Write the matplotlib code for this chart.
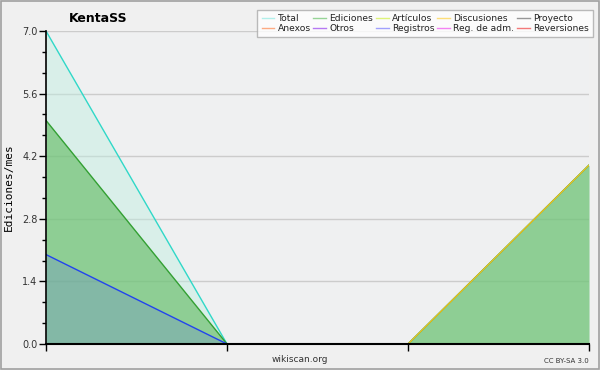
import numpy as np
import matplotlib.pyplot as plt
from matplotlib.lines import Line2D

# datos (ediciones por mes)
months = [0, 1, 2, 3]
total = [7.0, 0.0, 0.0, 4.0]
ediciones = [5.0, 0.0, 0.0, 4.0]
discusiones = [0.0, 0.0, 0.0, 4.0]
registros = [2.0, 0.0, 0.0, 0.0]

legend_names = ['Total', 'Ediciones', 'Artículos', 'Discusiones', 'Proyecto',
                'Anexos', 'Otros', 'Registros', 'Reg. de adm.', 'Reversiones']
legend_colors = ['#80e8e0', '#55bb55', '#ccee22', '#ffcc22', '#555555',
                 '#ff7733', '#8822ee', '#6666ff', '#ee33ee', '#ee2222']

yticks = [0.0, 1.4, 2.8, 4.2, 5.6, 7.0]

plt.rcParams['font.family'] = ['DejaVu Sans']

fig = plt.figure(figsize=(6, 3.7), dpi=100, facecolor='#f0f0f0')
fig.patches.append(plt.Rectangle((0.0015, 0.002), 0.997, 0.995, transform=fig.transFigure,
                                 fill=False, edgecolor='#a0a0a0', linewidth=1.2))
ax = fig.add_axes([46 / 600, 1 - 344 / 370, 543 / 600, 313 / 370])
ax.set_facecolor('#eff0f1')

# rellenos
ax.fill_between(months, total, color='#bfeee0', alpha=0.45, linewidth=0)
ax.fill_between(months, ediciones, color='#5cb85c', alpha=0.6, linewidth=0)
ax.fill_between(months, registros, color='#6f8fc8', alpha=0.35, linewidth=0)

# lineas
ax.plot(months, total, color='#30d8c8', linewidth=1.0)
ax.plot(months, ediciones, color='#33a033', linewidth=1.0)
ax.plot(months, registros, color='#2244ee', linewidth=1.0)
ax.plot(months, discusiones, color='#f0c020', linewidth=1.0)

ax.set_xlim(0, 3)
ax.set_ylim(0, 7.0)
ax.set_yticks(yticks)
ax.set_yticklabels(['%.1f' % v for v in yticks], fontsize=7, color='#333333')
ax.set_yticks(np.arange(0, 7.01, 1.4 / 3), minor=True)
ax.set_xticks(months)
ax.set_xticklabels([])
ax.tick_params(axis='y', which='major', length=5, width=1, pad=1)
ax.tick_params(axis='y', which='minor', length=3, width=1)
ax.tick_params(axis='x', length=5, width=1)
ax.grid(axis='y', color='#cccccc', linewidth=1)
ax.set_axisbelow(True)
for side in ['top', 'right']:
    ax.spines[side].set_visible(False)
ax.spines['left'].set_linewidth(1.2)
ax.spines['bottom'].set_linewidth(1.5)

ax.set_ylabel('Ediciones/mes', fontsize=8, family='DejaVu Sans Mono', labelpad=6)

fig.text(98 / 600, 1 - 18 / 370, 'KentaSS', fontsize=9, fontweight='bold', ha='center', va='center')
fig.text(300 / 600, 1 - 360 / 370, 'wikiscan.org', fontsize=6.5, color='#333333', ha='center', va='center')
fig.text(589 / 600, 1 - 361 / 370, 'CC BY-SA 3.0', fontsize=5, color='#333333', ha='right', va='center')

# leyenda, orden por columnas
handles = [Line2D([], [], color=c, linewidth=1, alpha=0.6) for c in legend_colors]
order = []
for col in range(5):
    order += [col, col + 5]
leg = fig.legend([handles[i] for i in order], [legend_names[i] for i in order],
                 ncol=5, loc='upper right', bbox_to_anchor=(593 / 600, 1 - 10 / 370),
                 fontsize=6.6, frameon=True, fancybox=False, edgecolor='#aaaaaa',
                 handlelength=1.4, handletextpad=0.35, columnspacing=0.3,
                 labelspacing=0.12, borderpad=0.45, borderaxespad=0)
leg.get_frame().set_linewidth(1)
for t in leg.get_texts():
    t.set_color('#222222')

fig.savefig('out.png', dpi=100, facecolor=fig.get_facecolor())
